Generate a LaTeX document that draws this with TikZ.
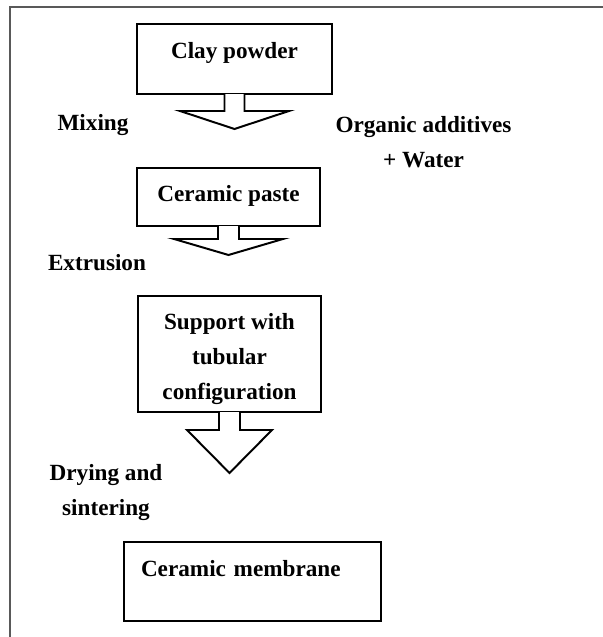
\documentclass[tikz,border=0pt]{standalone}
\usepackage{fontspec}
\setmainfont{Liberation Serif}
\usetikzlibrary{arrows,positioning}
\tikzset{font=\fontsize{16.5}{25}\selectfont\bfseries}
\tikzstyle{stepbox}=[draw,line width=1.4pt,align=center,inner sep=0pt]
\tikzstyle{blockarrow}=[draw,fill=white,line width=1.4pt,line join=miter]

\begin{document}
\begin{tikzpicture}
\useasboundingbox (0,0) rectangle (15.075,-15.925);
% frame
\draw[line width=0.9pt,black!65] (0.25,-15.925) |- (15.075,-0.175);

\node[stepbox,minimum width=4.875cm,minimum height=1.75cm,text height=11.5pt,text depth=12.7pt] (clay) at (5.8625,-1.475) {Clay powder};
\node[stepbox,minimum width=4.575cm,minimum height=1.45cm,text height=11.5pt,text depth=5.5pt] (paste) at (5.7125,-4.925) {Ceramic paste};
\node[stepbox,minimum width=4.575cm,minimum height=2.9cm] (support) at (5.7375,-8.85) {\rule{0pt}{19pt}Support with\\tubular\\configuration};
\node[stepbox,minimum width=6.425cm,minimum height=1.975cm,text width=5.575cm,align=left,inner xsep=0.425cm,text height=11.5pt,text depth=19.1pt] (membrane) at (6.3125,-14.5375) {Ceramic membrane};

\node (mixing) at (2.325,-3.125) {Mixing};
\node[align=center] (additives) at (10.5875,-3.55) {Organic additives\\+ Water};
\node (extrusion) at (2.425,-6.575) {Extrusion};
\node[align=center] (drying) at (2.65,-12.3125) {Drying and\\sintering};

\coordinate (tip1) at ([yshift=-8.5mm]clay.south);
\coordinate (tip2) at ([yshift=-7mm]paste.south);
\coordinate (tip3) at ([yshift=-15mm]support.south);

\draw[blockarrow] ([xshift=-2.5mm,yshift=0.7pt]clay.south) |- ([xshift=-13.625mm,yshift=-4mm]clay.south) -- (tip1)
  -- ([xshift=13.625mm,yshift=-4mm]clay.south) -| ([xshift=2.5mm,yshift=0.7pt]clay.south);
\draw[blockarrow] ([xshift=-2.625mm,yshift=0.7pt]paste.south) |- ([xshift=-13.625mm,yshift=-3mm]paste.south) -- (tip2)
  -- ([xshift=13.625mm,yshift=-3mm]paste.south) -| ([xshift=2.625mm,yshift=0.7pt]paste.south);
\draw[blockarrow] ([xshift=-2.625mm,yshift=0.7pt]support.south) |- ([xshift=-10.625mm,yshift=-4.25mm]support.south) -- (tip3)
  -- ([xshift=10.625mm,yshift=-4.25mm]support.south) -| ([xshift=2.625mm,yshift=0.7pt]support.south);
\end{tikzpicture}
\end{document}
